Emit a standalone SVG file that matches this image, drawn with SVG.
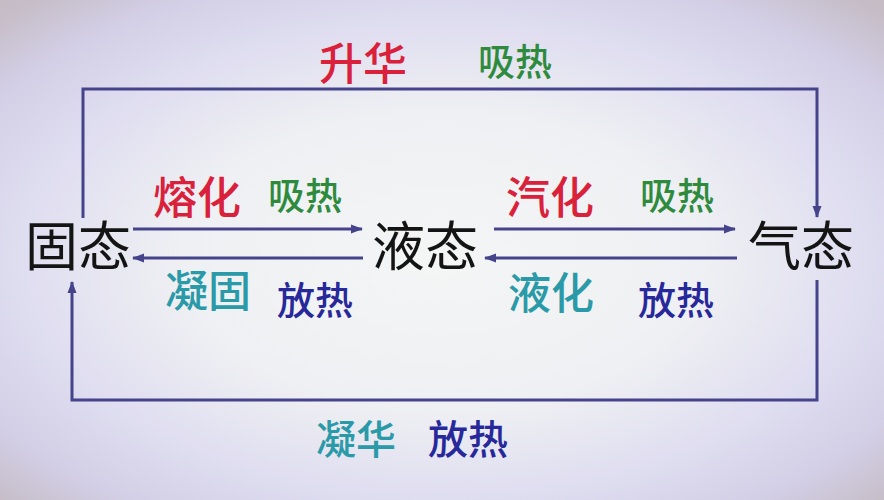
<svg xmlns="http://www.w3.org/2000/svg" width="884" height="500" viewBox="0 0 884 500">
<defs>
<radialGradient id="bg" cx="50%" cy="52%" r="70%">
<stop offset="0" stop-color="#f4f5f5"/>
<stop offset="0.42" stop-color="#eff0f3"/>
<stop offset="0.68" stop-color="#dfddf0"/>
<stop offset="0.85" stop-color="#d3cfe6"/>
<stop offset="1" stop-color="#c5bcc6"/>
</radialGradient>
<marker id="arr" markerUnits="userSpaceOnUse" markerWidth="12" markerHeight="10" refX="11" refY="5" orient="auto">
<path d="M0,0.5 L12,5 L0,9.5 z" fill="#45448a"/>
</marker>
<style>
text{font-family:"Noto Sans CJK SC","Noto Sans",sans-serif;text-anchor:middle}
.state{font-size:53px;fill:#141414}
.red{fill:#d9213b;font-size:44px;font-weight:500}
.green{fill:#2e8b3e;font-size:37px;font-weight:500}
.teal{fill:#2b9aa8;font-size:43px;font-weight:500}
.navy{fill:#27289a;font-size:38px;font-weight:500}
.link{fill:none;stroke:#45448a;stroke-width:3;marker-end:url(#arr)}
</style>
</defs>
<rect x="0" y="0" width="884" height="500" fill="url(#bg)"/>
<g id="connectors">
<path class="link" d="M83,218 V89 H817 V217"/>
<path class="link" d="M817,280 V400 H72 V282"/>
<path class="link" d="M133,229 H362"/>
<path class="link" d="M363,258 H133"/>
<path class="link" d="M494,229 H735"/>
<path class="link" d="M737,258 H485"/>
</g>
<g id="solid"><text class="state" x="78" y="266">固态</text></g>
<g id="liquid"><text class="state" x="425" y="266">液态</text></g>
<g id="gas"><text class="state" x="801" y="266">气态</text></g>
<g id="labels">
<text class="red" x="363" y="80">升华</text>
<text class="green" x="515" y="76">吸热</text>
<text class="red" x="197" y="214">熔化</text>
<text class="green" x="305" y="210">吸热</text>
<text class="teal" x="208" y="307">凝固</text>
<text class="navy" x="315" y="314">放热</text>
<text class="red" x="550" y="214">汽化</text>
<text class="green" x="677" y="210">吸热</text>
<text class="teal" x="551" y="309">液化</text>
<text class="navy" x="676" y="314">放热</text>
<text class="teal" x="356" y="454" style="font-size:40px">凝华</text>
<text class="navy" x="468" y="454" style="font-size:40px">放热</text>
</g>
</svg>
